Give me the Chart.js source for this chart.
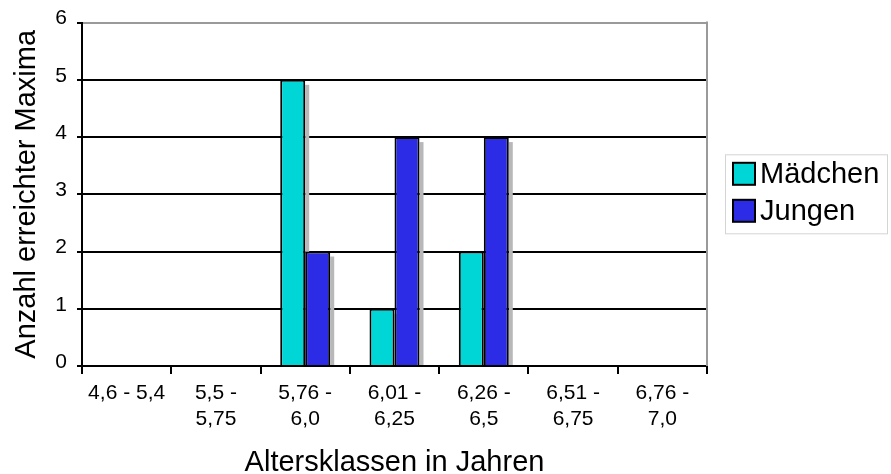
<!DOCTYPE html>
<html>
<head>
<meta charset="utf-8">
<script src="https://cdn.jsdelivr.net/npm/chart.js@4/dist/chart.umd.min.js"></script>
<style>
  html, body { margin: 0; padding: 0; background: #fff; overflow: hidden; }
  #wrap { width: 891px; height: 474px; }
</style>
</head>
<body>
<div id="wrap"><canvas id="c" width="891" height="474"></canvas></div>
<script>
// Altersklassen (Jahre), mehrzeilige Beschriftung
const categories = [
  ['4,6 - 5,4'],
  ['5,5 -', '5,75'],
  ['5,76 -', '6,0'],
  ['6,01 -', '6,25'],
  ['6,26 -', '6,5'],
  ['6,51 -', '6,75'],
  ['6,76 -', '7,0']
];
const seriesNames = ['Mädchen', 'Jungen'];
const maedchen = [0, 0, 5, 1, 2, 0, 0];
const jungen   = [0, 0, 2, 4, 4, 0, 0];
const yTicks = [0, 1, 2, 3, 4, 5, 6];

const colors = ['#00d6d6', '#2c2ce6'];
const FONT = "'Liberation Sans', Arial, sans-serif";

// grey drop shadow to the right of every bar
const barShadow = {
  id: 'barShadow',
  beforeDatasetsDraw(chart) {
    const ctx = chart.ctx;
    ctx.save();
    ctx.fillStyle = '#b8b8b8';
    chart.data.datasets.forEach((ds, i) => {
      const meta = chart.getDatasetMeta(i);
      meta.data.forEach((bar, j) => {
        if (!ds.data[j]) return;
        const p = bar.getProps(['x', 'y', 'width', 'base'], true);
        const right = p.x + p.width / 2;
        ctx.fillRect(right, p.y + 5, 4, p.base - p.y - 5);
      });
    });
    ctx.restore();
  }
};

// grey frame line on the right side of the plot area
const plotFrame = {
  id: 'plotFrame',
  afterDatasetsDraw(chart) {
    const { ctx, chartArea: a } = chart;
    ctx.save();
    ctx.strokeStyle = '#9a9a9a';
    ctx.lineWidth = 2;
    ctx.beginPath();
    ctx.moveTo(a.right, a.top - 1);
    ctx.lineTo(a.right, a.bottom);
    ctx.stroke();
    ctx.restore();
  }
};

// boxed legend right of the plot
const sideLegend = {
  id: 'sideLegend',
  afterDraw(chart) {
    const { ctx, chartArea: a } = chart;
    const fs = 29, row = 37, sq = 22;
    const left = a.right + 18, w = 162, h = 79;
    const top = (a.top + a.bottom) / 2 - h / 2 - 0.5;
    ctx.save();
    ctx.fillStyle = '#fff';
    ctx.fillRect(left, top, w, h);
    ctx.strokeStyle = '#d4d4d4';
    ctx.lineWidth = 1;
    ctx.strokeRect(left + 0.5, top + 0.5, w, h);
    ctx.font = fs + 'px ' + FONT;
    ctx.textBaseline = 'middle';
    chart.data.datasets.forEach((ds, i) => {
      const cy = top + 19.5 + i * row;
      ctx.fillStyle = ds.backgroundColor;
      ctx.fillRect(left + 8, cy - sq / 2, sq, sq);
      ctx.strokeStyle = '#000';
      ctx.lineWidth = 2;
      ctx.strokeRect(left + 8, cy - sq / 2, sq, sq);
      ctx.fillStyle = '#000';
      ctx.fillText(ds.label, left + 35, cy + 1);
    });
    ctx.restore();
  }
};

new Chart(document.getElementById('c'), {
  type: 'bar',
  data: {
    labels: categories,
    datasets: [
      { label: seriesNames[0], data: maedchen, backgroundColor: colors[0] },
      { label: seriesNames[1], data: jungen, backgroundColor: colors[1] }
    ].map(d => Object.assign(d, {
      borderColor: '#000',
      borderWidth: c => (c.raw ? 2 : 0),
      borderSkipped: 'bottom',
      categoryPercentage: 0.56,
      barPercentage: 1
    }))
  },
  options: {
    responsive: false,
    animation: false,
    devicePixelRatio: 1,
    layout: { padding: { left: 0, right: 184, top: 20, bottom: 0 } },
    plugins: { legend: { display: false }, tooltip: { enabled: false } },
    scales: {
      x: {
        afterFit: s => { s.height = 108; },
        grid: {
          offset: true,
          drawOnChartArea: false,
          drawTicks: true,
          tickLength: 8,
          color: '#000',
          lineWidth: 2
        },
        border: { color: '#000', width: 2 },
        ticks: {
          color: '#000',
          font: { family: FONT, size: 21, lineHeight: 1.25 },
          padding: 6,
          maxRotation: 0,
          autoSkip: false
        },
        title: {
          display: true,
          text: 'Altersklassen in Jahren',
          color: '#000',
          font: { family: FONT, size: 29 },
          padding: { top: 12, bottom: -6 }
        }
      },
      y: {
        min: 0,
        max: 6,
        afterFit: s => { s.width = 82; },
        afterBuildTicks: s => { s.ticks = yTicks.map(v => ({ value: v })); },
        grid: {
          color: c => (c.tick && c.tick.value === 6 ? '#9a9a9a' : '#000'),
          lineWidth: 2,
          tickLength: 5,
          tickColor: '#000'
        },
        border: { color: '#000', width: 2 },
        ticks: {
          color: '#000',
          font: { family: FONT, size: 21 },
          padding: 10,
          labelOffset: -4
        },
        title: {
          display: true,
          text: 'Anzahl erreichter Maxima',
          color: '#000',
          font: { family: FONT, size: 29 },
          padding: { top: 10, bottom: 0 }
        }
      }
    }
  },
  plugins: [barShadow, plotFrame, sideLegend]
});
</script>
</body>
</html>
